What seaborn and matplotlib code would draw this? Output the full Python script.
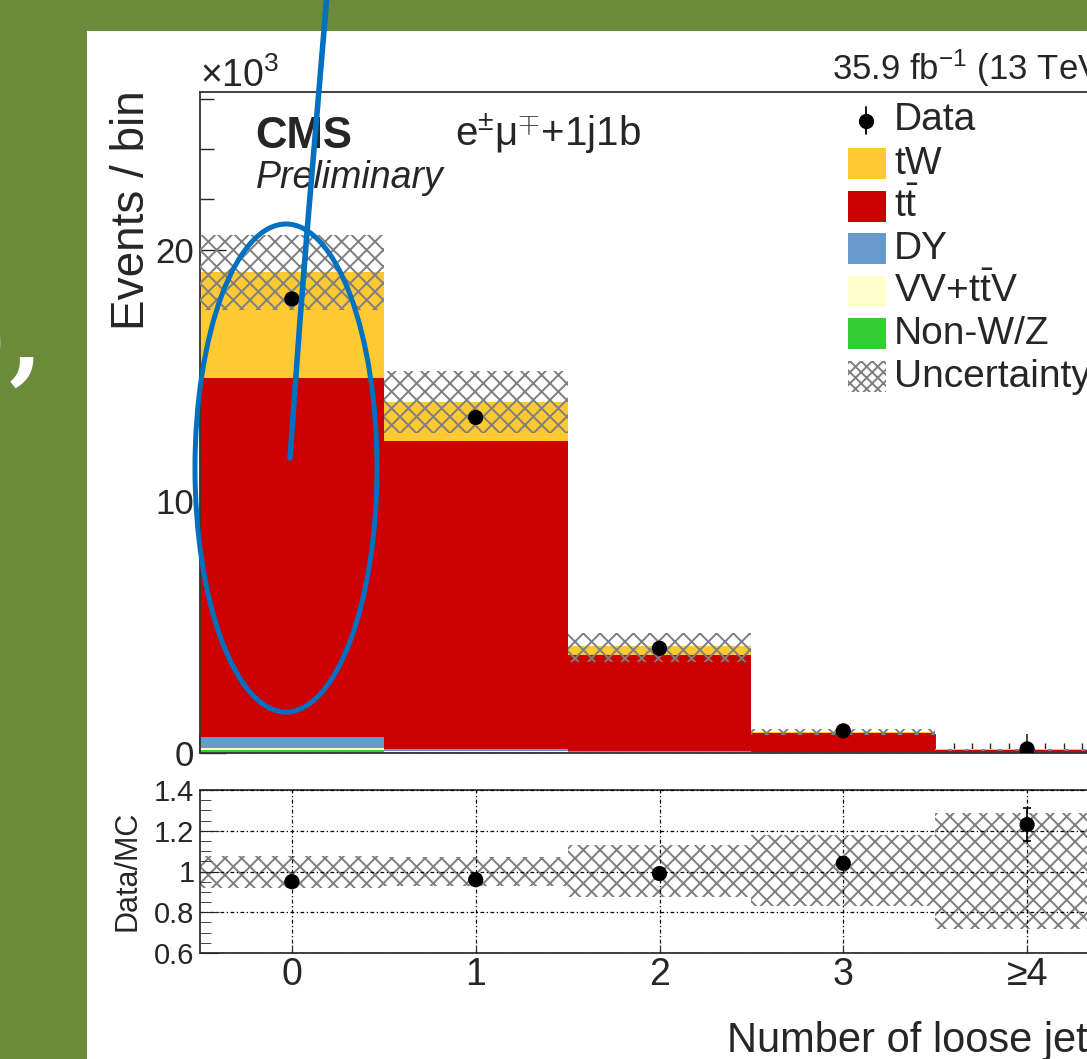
import numpy as np
import pandas as pd
import matplotlib
matplotlib.use("Agg")
import matplotlib.pyplot as plt
import seaborn as sns
from matplotlib.patches import Ellipse, Rectangle
from matplotlib.lines import Line2D
from matplotlib.ticker import MultipleLocator

# ---------------- data (events in thousands) ----------------
bins = [0, 1, 2, 3, 4]
bin_labels = ["0", "1", "2", "3", "≥4"]
nonwz = [0.10, 0.05, 0.02, 0.005, 0.002]
vv = [0.08, 0.04, 0.02, 0.010, 0.003]
dy = [0.47, 0.08, 0.03, 0.010, 0.003]
ttbar = [14.25, 12.21, 3.83, 0.755, 0.12]
tw = [4.20, 1.55, 0.35, 0.07, 0.012]
data = [18.04, 13.33, 4.16, 0.88, 0.16]
data_err = [0.13, 0.12, 0.065, 0.03, 0.013]
unc_lo = [17.59, 12.71, 3.63, 0.70, 0.09]
unc_hi = [20.56, 15.16, 4.76, 0.95, 0.17]
ratio = [0.95, 0.96, 0.99, 1.04, 1.23]
ratio_err = [0.008, 0.01, 0.018, 0.03, 0.08]
ratio_unc_lo = [0.92, 0.93, 0.875, 0.83, 0.72]
ratio_unc_hi = [1.075, 1.07, 1.13, 1.18, 1.285]

# top of stack first (seaborn stacks the first hue level on top)
procs = ["tW", "tt", "DY", "VV+ttV", "Non-W/Z"]
proc_vals = [tw, ttbar, dy, vv, nonwz]
proc_labels = ["tW", r"$\mathrm{t\bar{t}}$", "DY", r"VV+$\mathrm{t\bar{t}}$V", "Non-W/Z"]
colors = {"tW": "#FFC933", "tt": "#CC0000", "DY": "#6699CC",
          "VV+ttV": "#FFFFCC", "Non-W/Z": "#33CC33"}
hatch_col = "#7f7f7f"

# ---------------- style ----------------
sns.set_style("ticks")
plt.rcParams["font.family"] = ["Liberation Sans", "DejaVu Sans"]
plt.rcParams["mathtext.fontset"] = "custom"
plt.rcParams["mathtext.rm"] = "Liberation Sans"
plt.rcParams["mathtext.it"] = "Liberation Sans:italic"
plt.rcParams["mathtext.bf"] = "Liberation Sans:bold"
plt.rcParams["hatch.color"] = hatch_col
plt.rcParams["hatch.linewidth"] = 1.4

W, H = 1087, 1059
fig = plt.figure(figsize=(W / 100, H / 100), dpi=100)
fig.patch.set_facecolor("#6B8A3A")


def fx(px):
    return px / W


def fy(py):
    return 1 - py / H


fig.add_artist(Rectangle((fx(87), 0), 1, fy(31), transform=fig.transFigure,
                         facecolor="white", edgecolor="none", zorder=-5))

ax = fig.add_axes([fx(200), fy(753), (1119 - 200) / W, (753 - 92) / H])
rax = fig.add_axes([fx(200), fy(953), (1119 - 200) / W, (953 - 790) / H])

# ---------------- main panel ----------------
rows = []
for name, vals in zip(procs, proc_vals):
    for b, v in zip(bins, vals):
        rows.append({"bin": b, "events": v, "process": name})
df = pd.DataFrame(rows)

sns.histplot(data=df, x="bin", weights="events", hue="process", hue_order=procs,
             multiple="stack", discrete=True, shrink=1, palette=colors, alpha=1,
             linewidth=0, legend=False, ax=ax)

ax.bar(bins, np.array(unc_hi) - np.array(unc_lo), bottom=unc_lo, width=1,
       facecolor="none", edgecolor=hatch_col, hatch="xx", linewidth=0, zorder=3)
ax.errorbar(bins, data, yerr=data_err, fmt="none", ecolor="black",
            elinewidth=1.2, zorder=4)
sns.scatterplot(x=bins, y=data, color="black", s=120, edgecolor="none",
                ax=ax, zorder=5, legend=False)

ax.set_xlim(-0.5, 4.5)
ax.set_ylim(0, 26.26)
ax.set_xlabel("")
ax.set_ylabel("")
ax.xaxis.set_major_locator(MultipleLocator(0.5))
ax.xaxis.set_minor_locator(MultipleLocator(0.1))
ax.yaxis.set_major_locator(MultipleLocator(10))
ax.yaxis.set_minor_locator(MultipleLocator(2))
ax.tick_params(axis="x", which="both", direction="in", labelbottom=False,
               top=False, bottom=True)
ax.tick_params(axis="x", which="major", length=14, width=1.2)
ax.tick_params(axis="x", which="minor", length=7, width=1.0)
ax.tick_params(axis="y", which="both", direction="in", left=True, right=False)
ax.tick_params(axis="y", which="major", length=19, width=1.0, labelsize=25, pad=4)
ax.tick_params(axis="y", which="minor", length=10, width=1.0)
for s in ax.spines.values():
    s.set_visible(True)
    s.set_color("#333333")
    s.set_linewidth(1.3)

# ---------------- ratio panel ----------------
rax.bar(bins, np.array(ratio_unc_hi) - np.array(ratio_unc_lo), bottom=ratio_unc_lo,
        width=1, facecolor="none", edgecolor=hatch_col, hatch="xx", linewidth=0,
        zorder=2)
rax.errorbar(bins, ratio, yerr=ratio_err, fmt="none", ecolor="black",
             elinewidth=1.2, capsize=3, capthick=1.2, zorder=4)
sns.scatterplot(x=bins, y=ratio, color="black", s=120, edgecolor="none",
                ax=rax, zorder=5, legend=False)
rax.set_xlim(-0.5, 4.5)
rax.set_ylim(0.6, 1.4)
rax.set_xticks(bins)
rax.set_xticklabels(bin_labels)
rax.set_yticks([0.6, 0.8, 1.0, 1.2, 1.4])
rax.set_yticklabels(["0.6", "0.8", "1", "1.2", "1.4"])
rax.yaxis.set_minor_locator(MultipleLocator(0.05))
rax.grid(True, which="major", color="black", linestyle=(0, (3, 2, 1, 2)),
         linewidth=0.9)
rax.set_axisbelow(False)
rax.tick_params(axis="x", which="major", direction="in", length=6, labelsize=27, pad=3)
rax.tick_params(axis="y", which="major", direction="in", length=14, labelsize=21, pad=4)
rax.tick_params(axis="y", which="minor", direction="in", length=8, left=True)
for s in rax.spines.values():
    s.set_visible(True)
    s.set_color("#333333")
    s.set_linewidth(1.3)

# ---------------- legend (figure pixel layout) ----------------
leg_fs = 28
box_x0, box_x1, text_x = 848, 886, 894
row_top0, row_step, box_h = 148, 42.6, 31
# Data entry
fig.add_artist(Line2D([fx(866), fx(866)], [fy(107), fy(134)], color="black",
                      linewidth=1.3, transform=fig.transFigure))
fig.add_artist(Line2D([fx(866)], [fy(121)], marker="o", markersize=10,
                      color="black", linestyle="none", transform=fig.transFigure))
fig.text(fx(text_x), fy(130), "Data", fontsize=leg_fs, va="baseline")
for i, (name, lab) in enumerate(zip(procs, proc_labels)):
    top = row_top0 + i * row_step
    fig.add_artist(Rectangle((fx(box_x0), fy(top + box_h)), (box_x1 - box_x0) / W,
                             box_h / H, transform=fig.transFigure,
                             facecolor=colors[name], edgecolor="none"))
    fig.text(fx(text_x), fy(top + box_h - 5), lab, fontsize=leg_fs, va="baseline")
top = row_top0 + 5 * row_step
fig.add_artist(Rectangle((fx(box_x0), fy(top + box_h)), (box_x1 - box_x0) / W,
                         box_h / H, transform=fig.transFigure, facecolor="white",
                         edgecolor=hatch_col, hatch="xxx", linewidth=0))
fig.text(fx(text_x), fy(top + box_h - 5), "Uncertainty", fontsize=leg_fs,
         va="baseline")

# ---------------- texts ----------------
fig.text(fx(200), fy(87), r"×10$^{3}$", fontsize=27, va="baseline")
fig.text(fx(255), fy(148), "CMS", fontsize=31.5, fontweight="bold", va="baseline")
fig.text(fx(256), fy(188), "Preliminary", fontsize=27, style="italic", va="baseline")
fig.text(fx(455), fy(146), r"e$^{\pm}$μ$^{\mp}$+1j1b", fontsize=29, va="baseline")
fig.text(fx(832), fy(80), r"35.9 fb$^{-1}$ (13 TeV)", fontsize=25, va="baseline")
fig.text(fx(727), fy(1052), "Number of loose jets", fontsize=30, va="baseline")
fig.text(fx(132), fy(90), "Events / bin", rotation=90, fontsize=33,
         ha="center", va="top")
fig.text(fx(127), fy(871), "Data/MC", rotation=90, fontsize=22,
         ha="center", va="center")
fig.text(fx(7), fy(372), ")", color="white", fontsize=70, ha="right",
         va="baseline", family="DejaVu Serif")
fig.text(fx(9), fy(372), ",", color="white", fontsize=70, ha="left",
         va="baseline", family="DejaVu Serif", fontweight="bold")

# ---------------- hand-drawn annotation ----------------
fig.add_artist(Ellipse((2.86, (H - 468) / 100), 1.82, 4.88,
                       transform=fig.dpi_scale_trans, fill=False,
                       edgecolor="#0070C0", linewidth=3.6, zorder=10))
lx = np.array([327, 308, 300, 290]) / 100
ly = (H - np.array([-5, 220, 320, 458])) / 100
fig.add_artist(Line2D(lx, ly, transform=fig.dpi_scale_trans, color="#0070C0",
                      linewidth=4.0, solid_capstyle="round", zorder=10))

fig.savefig("out.png", dpi=100)
